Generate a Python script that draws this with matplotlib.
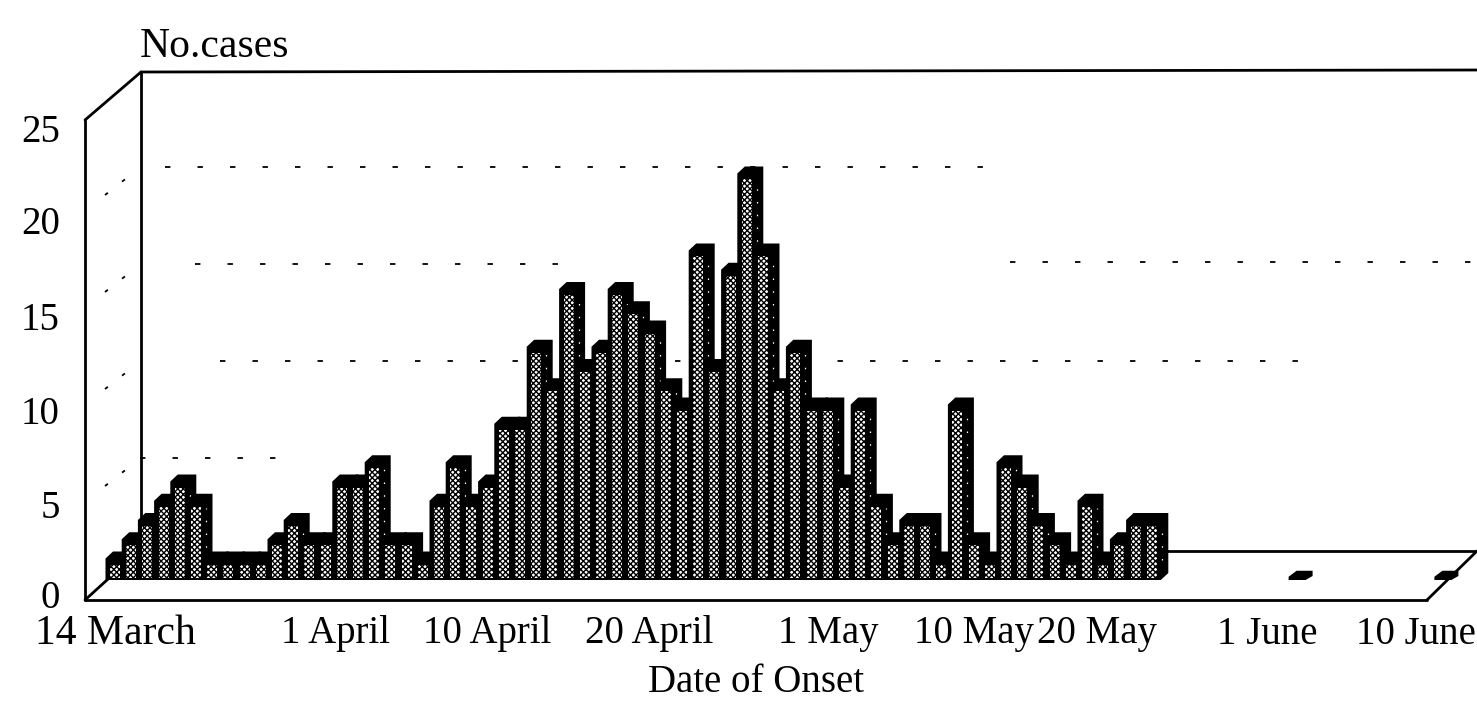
import matplotlib
matplotlib.use("Agg")
import matplotlib.pyplot as plt

# ---- data ----
cases = [2, 3, 4, 5, 6, 5, 2, 2, 2, 2, 3, 4, 3, 3, 6, 6, 7, 3, 3, 2,
         5, 7, 5, 6, 9, 9, 13, 11, 16, 12, 13, 16, 15, 14, 11, 10, 18, 12, 17, 22,
         18, 11, 13, 10, 10, 6, 10, 5, 3, 4, 4, 2, 10, 3, 2, 7, 6, 4, 3, 2,
         5, 2, 3, 4, 4, 0, 0, 0, 0, 0, 0, 0, 0, 1, 0, 0, 0, 0, 0, 0,
         0, 0, 1]
date_labels = ["14 March", "1 April", "10 April", "20 April", "1 May",
               "10 May", "20 May", "1 June", "10 June"]
date_ticks = [0, 13.6, 23, 33, 44, 53, 60.6, 71.1, 80.3]
y_ticks = [0, 5, 10, 15, 20, 25]

# ---- layout (figure pixels) ----
W, H = 1477, 701
X0, DX = 115.0, 16.2     # pixel of first bar centre, pixels per bar
Y0, DY = 590.0, 19.25    # pixel of rear top for value 0, pixels per case
FLOOR = 580.0

plt.rcParams["font.family"] = ["Liberation Serif", "DejaVu Serif"]
plt.rcParams["hatch.linewidth"] = 1.0
fig = plt.figure(figsize=(W / 100, H / 100), dpi=100, facecolor="white")

# pixel-space axes for the chart frame and text
px = fig.add_axes([0, 0, 1, 1], zorder=1)
px.set_xlim(0, W); px.set_ylim(H, 0); px.axis("off")

# data axes for the bars
ax = fig.add_axes([0, 0, 1, 1], zorder=2)
ax.set_xlim(-X0 / DX, (W - X0) / DX)
ax.set_ylim((Y0 - H) / DY, Y0 / DY)
ax.axis("off"); ax.patch.set_alpha(0)

# gridlines on the back wall
dash = (0, (3, 15))
for y, x1, x2 in [(167, 165, 985), (264, 195, 580), (262, 1010, 1477),
                  (361, 220, 1310), (458, 140, 300)]:
    px.plot([x1, x2], [y, y], color="black", lw=1.3, ls=dash)
for y in [458, 361, 264, 167]:
    px.plot([105, 128], [y + 28, y + 10], color="black", lw=1.3, ls=(0, (2, 10)))

# frame
LW = 2.0
segs = [((85, 120), (85, 600)), ((85, 600), (1427, 600)), ((85, 600), (140, 550)),
        ((85, 120), (141, 72)), ((141, 72), (141, 550)), ((141, 72), (1477, 70)),
        ((1160, 551), (1477, 551)), ((1427, 600), (1477, 551))]
for a, b in segs:
    px.plot([a[0], b[0]], [a[1], b[1]], color="black", lw=LW, solid_capstyle="round")

# bars
sx = 1 / DX
sy = 1 / DY
floor_v = (Y0 - FLOOR) / DY
for i, v in enumerate(cases):
    if v == 0:
        continue
    if v == 1:
        xs = [i - 9 * sx, i - 9 * sx, i - 1 * sx, i + 15 * sx, i + 15 * sx, i + 8 * sx]
        ys = [floor_v, v - 6 * sy, v, v, floor_v + 4 * sy, floor_v]
    else:
        xs = [i - 9.5 * sx, i - 9.5 * sx, i - 2 * sx, i + 16.5 * sx, i + 16.5 * sx, i + 9 * sx]
        ys = [floor_v, v - 7 * sy, v, v, floor_v + 7 * sy, floor_v]
    ax.fill(xs, ys, color="black", lw=0, zorder=3 + i * 0.01)
    if v > 1:
        ax.bar(i, (v - 13 * sy) - (floor_v + 2 * sy), width=10 * sx, bottom=floor_v + 2 * sy,
               facecolor="white", edgecolor="black", hatch="xxxxxx", lw=0,
               zorder=3 + i * 0.01 + 0.001)
        if v >= 4:
            ax.plot([i + 10 * sx, i + 10 * sx], [floor_v + 20 * sy, v - 14 * sy],
                    color="white", lw=0.9, ls=(0, (1.2, 9)), zorder=3 + i * 0.01 + 0.001)

# text
FS = 28
for v, y in zip(y_ticks, [599, 508, 414, 320, 224, 132]):
    px.text(60, y, str(v), ha="right", va="center", fontsize=FS)
for lab, t in zip(date_labels, date_ticks):
    size = 30 if lab == "14 March" else FS
    px.text(X0 + DX * t, 634, lab, ha="center", va="center", fontsize=size)
px.text(140, 47, "No.cases", ha="left", va="center", fontsize=30)
px.text(756, 682, "Date of Onset", ha="center", va="center", fontsize=FS)

fig.savefig("out.png", dpi=100, facecolor="white")
